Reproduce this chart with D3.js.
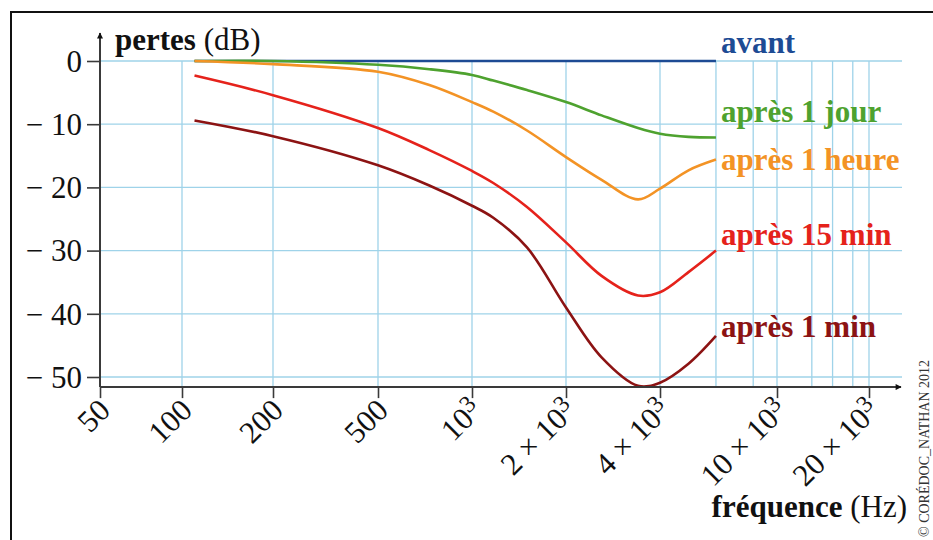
<!DOCTYPE html>
<html>
<head>
<meta charset="utf-8">
<script src="https://cdn.jsdelivr.net/npm/d3@7"></script>
<style>
  body { margin: 0; background: #fff; }
  svg { display: block; }
  svg text { font-family: "Liberation Serif", "Times New Roman", serif; }
</style>
</head>
<body>
<div id="chart"></div>
<script>
// data
var freqTicks = [50, 100, 200, 500, 1000, 2000, 4000, 10000, 20000];
var gridFreqs = [100, 200, 500, 1000, 2000, 4000, 6200, 8300, 10000, 13000, 15200, 17700, 20000];
var dbTicks = [0, -10, -20, -30, -40, -50];

var freqs       = [110, 200, 500, 730, 1000, 1170, 1500, 2000, 2600, 3400, 4000, 5000, 6200];
var avant       = [0, 0, 0, 0, 0, 0, 0, 0, 0, 0, 0, 0, 0];
var apres1jour  = [0, 0, -0.6, -1.3, -2.2, -3.1, -4.6, -6.5, -8.6, -10.6, -11.5, -12.0, -12.1];
var apres1heure = [0, -0.5, -1.7, -3.8, -6.5, -8.0, -11.0, -15.2, -18.8, -21.9, -20.2, -17.3, -15.6];
var apres15min  = [-2.3, -5.4, -10.6, -14.1, -17.4, -19.3, -23.1, -28.7, -34.0, -37.1, -36.6, -33.4, -30.0];
var apres1min   = [-9.4, -11.9, -16.5, -19.7, -22.9, -24.8, -29.5, -39.0, -46.9, -51.4, -50.9, -47.9, -43.5];

var seriesNames = ["avant", "après 1 jour", "après 1 heure", "après 15 min", "après 1 min"];
var seriesVals = [avant, apres1jour, apres1heure, apres15min, apres1min];
var seriesColors = ["#1d4b94", "#4ea22f", "#f39325", "#e5221b", "#8c1313"];

var serif = "Liberation Serif, Times New Roman, serif";
var width = 933, height = 540;

var svg = d3.select("#chart").append("svg")
  .attr("width", width)
  .attr("height", height)
  .attr("font-family", serif);

// frame
svg.append("rect")
  .attr("x", 11).attr("y", 12)
  .attr("width", 1000).attr("height", 1000)
  .attr("fill", "none").attr("stroke", "#111").attr("stroke-width", 2);

// the drawing's frequency axis is a slightly irregular log scale
var x = d3.scaleLog()
  .domain(freqTicks)
  .range([100, 182, 273, 378, 472, 566, 660, 777, 869]);

var y = d3.scaleLinear().domain([0, -50]).range([61, 377]);

var x0 = 100, x1 = 902, yAxis = y(-51.6), yTop = 33;

// grid
svg.append("g").selectAll("line")
  .data(dbTicks).enter().append("line")
  .attr("x1", x0).attr("x2", x1)
  .attr("y1", function(d) { return y(d); })
  .attr("y2", function(d) { return y(d); })
  .attr("stroke", "#9fd3e9").attr("stroke-width", 1.3);

svg.append("g").selectAll("line")
  .data(gridFreqs).enter().append("line")
  .attr("x1", function(d) { return x(d); })
  .attr("x2", function(d) { return x(d); })
  .attr("y1", y(0)).attr("y2", yAxis)
  .attr("stroke", "#9fd3e9").attr("stroke-width", 1.3);

// curves
var line = d3.line()
  .x(function(d) { return x(d[0]); })
  .y(function(d) { return y(d[1]); })
  .curve(d3.curveCatmullRom.alpha(0.5));

seriesVals.forEach(function(vals, i) {
  svg.append("path")
    .datum(freqs.map(function(f, j) { return [f, vals[j]]; }))
    .attr("d", line)
    .attr("fill", "none")
    .attr("stroke", seriesColors[i])
    .attr("stroke-width", 2.6);
});

// axes
var axisColor = "#3a3a3a";

svg.append("g")
  .attr("transform", "translate(" + x0 + ",0)")
  .call(d3.axisLeft(y).tickValues(dbTicks).tickSize(13).tickPadding(5)
    .tickFormat(function(d) { return d === 0 ? "0" : "\u2212 " + Math.abs(d); }))
  .call(function(g) {
    g.attr("font-family", serif);
    g.select(".domain").remove();
    g.selectAll("line").attr("stroke", axisColor).attr("stroke-width", 1.6);
    g.selectAll("text").attr("font-size", 31).attr("fill", "#111").attr("dy", "0.33em");
  });

var xAxis = svg.append("g")
  .attr("transform", "translate(0," + yAxis + ")")
  .call(d3.axisBottom(x).tickValues(freqTicks).tickSize(11).tickFormat(""));
xAxis.select(".domain").remove();
xAxis.selectAll("line").attr("stroke", axisColor).attr("stroke-width", 1.6);

// rotated frequency labels
var xl = svg.append("g").selectAll("text")
  .data(freqTicks).enter().append("text")
  .attr("transform", function(d) { return "translate(" + (x(d) + 12) + "," + (yAxis + 25) + ") rotate(-45)"; })
  .attr("text-anchor", "end")
  .attr("font-size", 31)
  .attr("fill", "#111");
xl.each(function(d) {
  var t = d3.select(this);
  if (d < 1000) { t.text(d); return; }
  var m = d / 1000;
  t.append("tspan").text((m > 1 ? m + " \u00d7 " : "") + "10");
  t.append("tspan").attr("dy", "-0.4em").attr("font-size", 24).text("3");
});

// axis lines with arrows
svg.append("defs").append("marker")
  .attr("id", "arrow")
  .attr("viewBox", "0 0 10 10")
  .attr("refX", 9).attr("refY", 5)
  .attr("markerWidth", 10).attr("markerHeight", 6)
  .attr("markerUnits", "userSpaceOnUse")
  .attr("orient", "auto")
  .append("path").attr("d", "M0,0 L10,5 L0,10 Z").attr("fill", "#111");

svg.append("line")
  .attr("x1", x0).attr("x2", x0).attr("y1", yAxis).attr("y2", yTop)
  .attr("stroke", axisColor).attr("stroke-width", 2)
  .attr("marker-end", "url(#arrow)");
svg.append("line")
  .attr("x1", x0).attr("x2", 901).attr("y1", yAxis).attr("y2", yAxis)
  .attr("stroke", axisColor).attr("stroke-width", 2)
  .attr("marker-end", "url(#arrow)");

// axis titles
var yt = svg.append("text").attr("x", 115).attr("y", 50).attr("font-size", 31).attr("fill", "#111");
yt.append("tspan").attr("font-weight", "bold").text("pertes");
yt.append("tspan").text(" (dB)");

var xt = svg.append("text").attr("x", 907).attr("y", 517).attr("text-anchor", "end")
  .attr("font-size", 31).attr("fill", "#111");
xt.append("tspan").attr("font-weight", "bold").text("fréquence");
xt.append("tspan").text(" (Hz)");

// series labels
var labelY = [53, 122, 170, 245, 337];
svg.append("g").selectAll("text")
  .data(seriesNames).enter().append("text")
  .attr("x", 721)
  .attr("y", function(d, i) { return labelY[i]; })
  .attr("font-size", 31)
  .attr("font-weight", "bold")
  .attr("fill", function(d, i) { return seriesColors[i]; })
  .text(function(d) { return d; });

// credit
svg.append("text")
  .attr("transform", "translate(929,537) rotate(-90)")
  .attr("font-size", 14)
  .attr("fill", "#333")
  .text("© CORÉDOC_NATHAN 2012");
</script>
</body>
</html>
